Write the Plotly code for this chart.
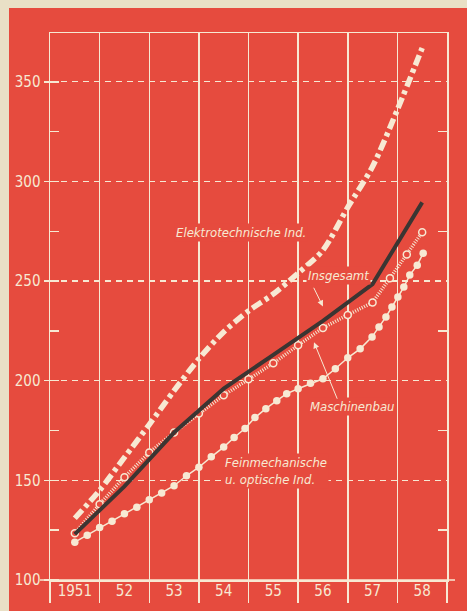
import plotly.graph_objects as go

RED = "#e64b3e"
BEIGE = "#e9e0c6"
CREAM = "#f7e9d3"
DARK = "#3b3532"
FONT = "DejaVu Sans Condensed"

# ---- data (index, 1950 = 100) ----
years = [1951, 1952, 1953, 1954, 1955, 1956, 1957, 1958]
year_labels = ["1951", "52", "53", "54", "55", "56", "57", "58"]

insgesamt = [123, 147, 174, 196, 213, 230, 248.5, 289.5]

elektro_x = [1951, 1951.5, 1952, 1952.5, 1953, 1953.5, 1954, 1954.5,
             1955, 1955.5, 1956, 1956.5, 1957, 1957.5, 1958]
elektro = [131, 145, 161.5, 178, 195, 211, 224.5, 235,
           243.5, 254, 265.5, 287, 307.5, 336, 367]

masch_x = [1951, 1951.5, 1952, 1952.5, 1953, 1953.5, 1954, 1954.5,
           1955, 1955.5, 1956, 1956.5, 1957, 1957.35, 1957.69, 1958]
masch = [123.5, 138, 151.6, 164, 174, 183.5, 192.7, 200.7,
         208.8, 217.8, 226.5, 233, 239.3, 251.4, 263.4, 274.5]

fein_x = [1951.0, 1951.25, 1951.5, 1951.75, 1952.0, 1952.25, 1952.5, 1952.75,
          1953.0, 1953.25, 1953.5, 1953.75, 1954.0, 1954.21, 1954.43, 1954.63,
          1954.85, 1955.07, 1955.27, 1955.5, 1955.75, 1956.0, 1956.25, 1956.5,
          1956.75, 1956.99, 1957.13, 1957.27, 1957.39, 1957.51, 1957.63, 1957.75,
          1957.9, 1958.02]
fein = [119, 122.5, 126.3, 129.5, 133.3, 136.5, 140.3, 143.6,
        147.3, 152.3, 156.6, 161.8, 166.7, 171.5, 176, 181.5,
        186, 190, 193.5, 196, 198.7, 201, 206, 211.5,
        216, 222, 227, 232, 237, 242, 247, 253,
        258, 264]

y_minor_right = [125, 175, 225, 275, 325]

fig = go.Figure()
fig.add_trace(go.Scatter(
    x=fein_x, y=fein, mode="lines+markers",
    line=dict(color=CREAM, width=1.5),
    marker=dict(size=7.5, color=CREAM),
    hoverinfo="skip", showlegend=False))
fig.add_trace(go.Scatter(
    x=masch_x, y=masch, mode="lines+markers",
    line=dict(color=CREAM, width=3.5, dash="1px,1.5px"),
    marker=dict(size=7, color=RED, line=dict(color=CREAM, width=1.5)),
    hoverinfo="skip", showlegend=False))
fig.add_trace(go.Scatter(
    x=elektro_x, y=elektro, mode="lines",
    line=dict(color=CREAM, width=5.5, dash="11px,4px,4px,4px",
              shape="spline", smoothing=0.8),
    hoverinfo="skip", showlegend=False))
fig.add_trace(go.Scatter(
    x=years, y=insgesamt, mode="lines",
    line=dict(color=DARK, width=4),
    hoverinfo="skip", showlegend=False))
fig.add_trace(go.Scatter(
    x=years, y=[None] * len(years), xaxis="x2", yaxis="y2", mode="markers",
    hoverinfo="skip", showlegend=False))

xr = [1950.5, 1958.5]
yr = [100, 374.5]

fig.update_layout(
    width=467, height=611,
    margin=dict(l=50, r=20, t=33, b=31, pad=0, autoexpand=False),
    paper_bgcolor=RED, plot_bgcolor=RED,
    xaxis=dict(range=xr, tickmode="array",
               tickvals=[1950.5 + i for i in range(9)],
               ticks="outside", ticklen=21, tickwidth=1.5, tickcolor=CREAM,
               showticklabels=False, showgrid=True, gridcolor=CREAM, gridwidth=1.5,
               showline=True, linecolor=CREAM, linewidth=1.5, mirror=True,
               zeroline=False, fixedrange=True),
    xaxis2=dict(range=xr, overlaying="x", anchor="y2", side="bottom",
                tickmode="array", tickvals=years, ticktext=year_labels,
                ticks="", showgrid=False, showline=False, zeroline=False,
                tickfont=dict(family=FONT, size=15, color=CREAM), fixedrange=True),
    yaxis=dict(range=yr, tickmode="linear", tick0=100, dtick=50,
               ticks="outside", ticklen=5, tickwidth=1.5, tickcolor=CREAM,
               showgrid=True, gridcolor=CREAM, gridwidth=1.2, griddash="6px,5px",
               showline=True, linecolor=CREAM, linewidth=1.5, mirror=True,
               zeroline=False, fixedrange=True,
               tickfont=dict(family=FONT, size=15, color=CREAM),
               minor=dict(tick0=100, dtick=25, ticks="inside", ticklen=9,
                          tickwidth=1.5, tickcolor=CREAM, showgrid=False)),
    yaxis2=dict(range=yr, overlaying="y", anchor="x2", side="right",
                tickmode="array", tickvals=y_minor_right,
                ticks="inside", ticklen=9, tickwidth=1.5, tickcolor=CREAM,
                showticklabels=False, showgrid=False, showline=False,
                zeroline=False, fixedrange=True),
    showlegend=False,
)

# beige paper border (top and left) and extended base line
pw, ph = 397.0, 547.0
fig.add_shape(type="rect", xref="paper", yref="paper", layer="below",
              x0=-50 / pw, x1=(9 - 50) / pw, y0=-31 / ph, y1=1 + 33 / ph,
              fillcolor=BEIGE, line=dict(width=0))
fig.add_shape(type="rect", xref="paper", yref="paper", layer="below",
              x0=-50 / pw, x1=1 + 20 / pw, y0=1 + 25 / ph, y1=1 + 33 / ph,
              fillcolor=BEIGE, line=dict(width=0))
fig.add_shape(type="line", xref="paper", yref="paper",
              x0=-10 / pw, x1=1 + 8 / pw, y0=0, y1=0,
              line=dict(color=CREAM, width=1.5))

lab_font = dict(family=FONT, size=13, color=CREAM)
labels = [
    ("Elektrotechnische Ind.", 1954.35, 274.4, "center"),
    ("Insgesamt", 1956.31, 252.9, "center"),
    ("Maschinenbau", 1956.58, 187.2, "center"),
    ("Feinmechanische<br>u. optische Ind.", 1953.98, 154.9, "left"),
]
for txt, x, y, anc in labels:
    fig.add_annotation(x=x, y=y, xref="x", yref="y", text="<i>" + txt + "</i>",
                       showarrow=False, xanchor=anc, yanchor="middle", align="left",
                       font=lab_font, bgcolor=RED, borderpad=1)

arrows = [
    (1956.0, 237.3, 1955.80, 247.4),
    (1955.82, 219.3, 1956.30, 190.2),
]
for x, y, ax, ay in arrows:
    fig.add_annotation(x=x, y=y, ax=ax, ay=ay, xref="x", yref="y",
                       axref="x", ayref="y", text="", showarrow=True,
                       arrowhead=2, arrowsize=1.2, arrowwidth=1,
                       arrowcolor=CREAM, standoff=0, startstandoff=0)

fig.write_html(
    "out.html",
    config={"displayModeBar": False, "staticPlot": True},
    post_script="document.body.style.margin='0';"
                "document.body.style.overflow='hidden';"
                "document.body.style.background='%s';" % BEIGE,
)
